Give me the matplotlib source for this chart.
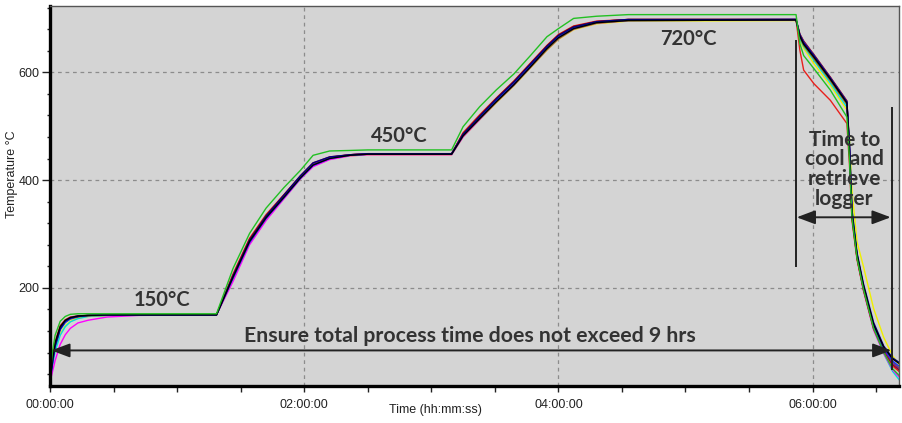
import numpy as np
import matplotlib
matplotlib.use('Agg')
import matplotlib.pyplot as plt
from matplotlib.ticker import MultipleLocator, FuncFormatter

# ── data: logger traces (time in hours, temperature in °C) ──
T = [0.00, 0.02, 0.04, 0.08, 0.12, 0.16, 0.22, 0.30, 0.45, 0.70, 1.31,
     1.44, 1.57, 1.70, 1.84, 1.97, 2.07, 2.20, 2.36, 2.50, 3.16,
     3.25, 3.38, 3.51, 3.65, 3.78, 3.91, 4.00, 4.12, 4.30, 4.55, 5.87,
     5.90, 5.93, 6.01, 6.14, 6.27, 6.29, 6.31, 6.35, 6.40, 6.48, 6.56, 6.63, 6.68]

yellow = [34, 58, 84, 115, 130, 138, 144, 147, 149, 150, 150,
          215, 282, 327, 366, 402, 426, 439, 445, 447, 447,
          480, 512, 543, 575, 608, 641, 661, 679, 690, 695, 696,
          659, 645, 616, 576, 530, 480, 380, 285, 240, 162, 108, 74, 58]
cyan = [26, 55, 82, 112, 128, 137, 143, 147, 149, 150, 150,
        217, 283, 328, 367, 403, 427, 440, 446, 448, 448,
        481, 513, 545, 577, 610, 643, 663, 681, 692, 696, 697,
        662, 648, 622, 580, 535, 470, 345, 258, 198, 124, 78, 45, 30]
magenta = [25, 45, 65, 95, 113, 125, 135, 140, 146, 149, 150,
           212, 280, 325, 365, 402, 425, 438, 445, 447, 447,
           480, 512, 544, 576, 609, 642, 662, 680, 691, 696, 697,
           666, 652, 627, 585, 541, 465, 340, 255, 195, 122, 78, 48, 35]
red = [32, 70, 100, 130, 141, 146, 148, 149, 150, 150, 150,
       226, 292, 336, 373, 408, 432, 443, 447, 449, 449,
       488, 521, 552, 584, 617, 650, 670, 686, 695, 698, 698,
       641, 604, 579, 548, 505, 430, 325, 252, 196, 124, 82, 55, 45]
olive = [31, 66, 95, 124, 136, 142, 146, 148, 149, 150, 150,
         219, 285, 330, 368, 405, 429, 441, 446, 448, 448,
         482, 513, 544, 576, 609, 642, 662, 680, 691, 696, 697,
         665, 650, 625, 584, 540, 450, 330, 256, 200, 130, 88, 63, 52]
darkred = [29, 64, 94, 125, 138, 144, 147, 149, 150, 150, 150,
           223, 290, 334, 372, 407, 431, 442, 447, 449, 449,
           486, 519, 551, 583, 616, 649, 669, 685, 694, 698, 698,
           671, 658, 633, 591, 547, 458, 332, 255, 198, 126, 84, 58, 48]
purple = [30, 66, 96, 126, 139, 145, 148, 149, 150, 150, 150,
          221, 287, 332, 370, 406, 430, 442, 447, 449, 449,
          484, 516, 548, 580, 613, 646, 666, 683, 693, 697, 698,
          670, 657, 632, 590, 546, 465, 338, 258, 200, 128, 85, 60, 50]
blue = [27, 60, 90, 122, 136, 143, 147, 149, 150, 150, 150,
        218, 284, 329, 367, 403, 427, 440, 446, 448, 448,
        483, 515, 547, 578, 612, 645, 665, 682, 693, 697, 698,
        668, 654, 630, 588, 544, 462, 340, 260, 203, 130, 88, 64, 55]
navy = [28, 62, 92, 124, 138, 144, 147, 149, 150, 150, 150,
        222, 288, 333, 372, 408, 432, 443, 447, 449, 449,
        485, 518, 550, 582, 615, 648, 668, 684, 694, 698, 698,
        669, 655, 631, 589, 545, 470, 345, 265, 208, 136, 92, 70, 62]
black = [30, 68, 98, 128, 140, 145, 148, 149, 150, 150, 150,
         220, 286, 330, 368, 404, 428, 440, 446, 448, 448,
         482, 514, 545, 577, 610, 644, 664, 681, 692, 696, 697,
         667, 652, 628, 587, 543, 455, 335, 262, 205, 132, 90, 68, 60]
green = [35, 82, 112, 138, 147, 151, 152, 152, 152, 152, 152,
         236, 301, 348, 386, 418, 446, 454, 455, 456, 456,
         499, 536, 567, 597, 631, 666, 681, 700, 704, 707, 707,
         653, 631, 607, 567, 517, 440, 330, 255, 198, 125, 80, 50, 38]

traces = [(yellow, '#f0f000'), (cyan, '#00e0e0'), (magenta, '#ff00ff'), (red, '#e8201c'),
          (olive, '#8a7a20'), (darkred, '#8b0000'), (purple, '#7a1a8a'), (blue, '#1030ff'),
          (navy, '#000080'), (black, '#000000'), (green, '#22c022')]

# annotation geometry (data coords)
plateau_labels = [(0.88, 178, '150°C'), (2.75, 481, '450°C'), (5.02, 661, '720°C')]
total_arrow = (0.01, 6.62, 84)
cool_arrow = (5.875, 6.615, 331)
cool_lines = [(5.87, 239, 660), (6.622, 48, 535)]

fig = plt.figure(figsize=(9.02, 4.23), dpi=100, facecolor='white')
ax = fig.add_axes([50/902, 37/423, 849/902, 380/423])
ax.set_facecolor('#d4d4d4')

for vals, col in traces:
    assert len(vals) == len(T)
    ax.plot(T, vals, color=col, lw=1.0)

ax.set_xlim(0, 6.68)
ax.set_ylim(18, 723)

ax.xaxis.set_major_locator(MultipleLocator(2))
ax.xaxis.set_minor_locator(MultipleLocator(0.5))
ax.yaxis.set_major_locator(MultipleLocator(200))
ax.yaxis.set_minor_locator(MultipleLocator(40))
ax.xaxis.set_major_formatter(FuncFormatter(lambda v, p: f"{int(round(v)):02d}:00:00"))
ax.yaxis.set_major_formatter(FuncFormatter(lambda v, p: f"{int(v)}"))

tick_font = ['Liberation Sans Narrow', 'Liberation Sans', 'DejaVu Sans']
ax.tick_params(axis='x', which='both', direction='out', length=4.3, width=1, color='#222', pad=5)
ax.tick_params(axis='y', which='major', direction='out', length=5.5, width=1, color='#222', pad=2)
ax.tick_params(axis='y', which='minor', direction='out', length=2.5, width=1, color='#222')
for lab in ax.get_xticklabels() + ax.get_yticklabels():
    lab.set_fontfamily(tick_font)
    lab.set_fontsize(9)
    lab.set_color('#222')

ax.grid(True, which='major', color='#8c8c8c', ls=(0, (3, 3)), lw=0.9)

for s in ['left', 'bottom']:
    ax.spines[s].set_linewidth(2.4)
    ax.spines[s].set_color('black')
for s in ['top', 'right']:
    ax.spines[s].set_linewidth(1.0)
    ax.spines[s].set_color('#555')

ax.set_xlabel('Time (hh:mm:ss)', fontsize=9, family=tick_font, color='#222')
ax.xaxis.set_label_coords(0.4535, -0.048)
ax.set_ylabel('Temperature °C', fontsize=9, family=tick_font, color='#222')
ax.yaxis.set_label_coords(-0.038, 0.558)

# ── annotations ──
ann = dict(family=['Lato', 'DejaVu Sans'], fontweight='bold', color='#333333')
for x, y, s in plateau_labels:
    ax.text(x, y, s, ha='center', va='center', fontsize=14.5, **ann)

ax.text(3.30, 111, 'Ensure total process time does not exceed 9 hrs', ha='center', va='center',
        fontsize=15.3, **ann)
ax.text(6.25, 420, 'Time to\ncool and\nretrieve\nlogger', ha='center', va='center',
        linespacing=0.98, fontsize=15, **ann)

arr = dict(arrowstyle='<|-|>,head_length=0.8,head_width=0.3', color='#222', lw=1.4,
           mutation_scale=14, shrinkA=0, shrinkB=0)
x0, x1, y = total_arrow
ax.annotate('', xy=(x1, y), xytext=(x0, y), arrowprops=arr)
x0, x1, y = cool_arrow
ax.annotate('', xy=(x1, y), xytext=(x0, y), arrowprops=arr)
for x, ylo, yhi in cool_lines:
    ax.vlines(x, ylo, yhi, color='#222', lw=1.4)

fig.savefig('out.png', dpi=100, facecolor='white')
